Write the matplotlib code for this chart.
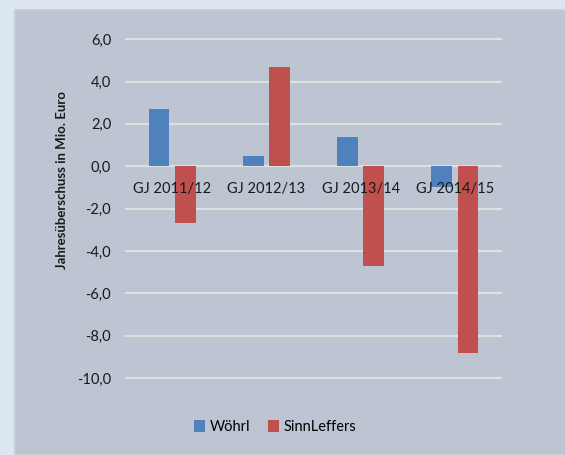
import matplotlib.pyplot as plt
import matplotlib.patches as mpatches
import numpy as np

# Daten
kategorien = ['GJ 2011/12', 'GJ 2012/13', 'GJ 2013/14', 'GJ 2014/15']
woehrl = [2.7, 0.5, 1.4, -1.0]
sinnleffers = [-2.7, 4.7, -4.7, -8.8]
y_ticks = [6, 4, 2, 0, -2, -4, -6, -8, -10]

plt.rcParams['font.family'] = ['Lato', 'DejaVu Sans']

fig = plt.figure(figsize=(5.65, 4.55), dpi=100)
fig.patch.set_facecolor('#dce6f2')

# Diagrammbereich (Hintergrund)
bg = mpatches.Rectangle((15 / 565, 0), 1, 1 - 10 / 455, transform=fig.transFigure,
                        facecolor='#bcc5d1', edgecolor='#c8cdd4', linewidth=1.5, zorder=-5)
fig.patches.append(bg)

ax = fig.add_axes([125 / 565, 1 - 396 / 455, 377 / 565, 378 / 455])
ax.set_zorder(2)
ax.set_facecolor('none')

x = np.arange(len(kategorien))
breite = 0.22
ax.bar(x - 0.14, woehrl, breite, color='#4f81bd', label='Wöhrl', zorder=3)
ax.bar(x + 0.14, sinnleffers, breite, color='#c0504d', label='SinnLeffers', zorder=3)

ax.set_xlim(-0.5, 3.5)
ax.set_ylim(-10.85, 7.0)
ax.set_yticks(y_ticks)
ax.set_yticklabels([f'{v:.1f}'.replace('.', ',') for v in y_ticks], fontsize=10.5, color='#1a1a1a')
ax.yaxis.grid(True, color='#e0e0e0', linewidth=1.5, zorder=0)
ax.set_axisbelow(True)
ax.tick_params(axis='y', length=0, pad=10)
ax.set_xticks([])
for s in ax.spines.values():
    s.set_visible(False)

for i, k in enumerate(kategorien):
    ax.text(i, -0.75, k, ha='center', va='top', fontsize=10.5, color='#1a1a1a', zorder=4)

fig.text(62 / 565, 1 - 180 / 455, 'Jahresüberschuss in Mio. Euro', rotation=90,
         ha='center', va='center', fontsize=9.5, fontweight='bold', color='#1a1a1a')

fig.legend(loc='center', bbox_to_anchor=(275 / 565, 1 - 427 / 455), ncol=2, frameon=False,
           fontsize=10.5, handlelength=0.8, handleheight=0.8, handletextpad=0.3, columnspacing=1.2)

fig.savefig('out.png', dpi=100, facecolor=fig.get_facecolor())
